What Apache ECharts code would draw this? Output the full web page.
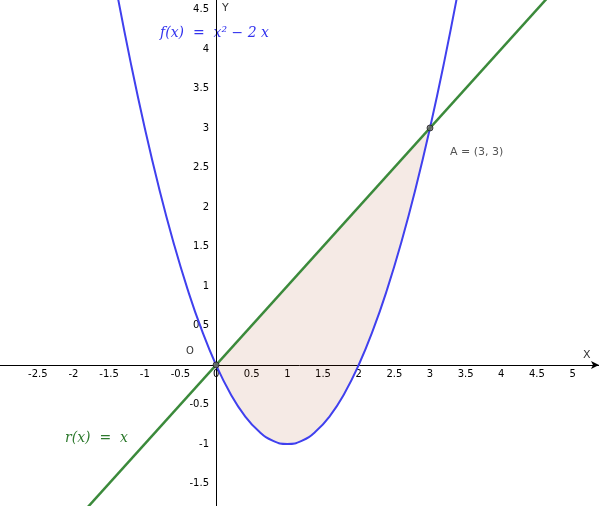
<!DOCTYPE html>
<html><head><meta charset="utf-8">
<script src="https://cdn.jsdelivr.net/npm/echarts@6/dist/echarts.min.js"></script>
<style>html,body{margin:0;padding:0;background:#fff}#c{width:599px;height:506px}</style>
</head><body><div id="c"></div>
<script>
const fx = [-1.4,-1.2,-1.0,-0.8,-0.6,-0.4,-0.2,0,0.2,0.4,0.6,0.8,1.0,1.2,1.4,1.6,1.8,2.0,2.2,2.4,2.6,2.8,3.0,3.2,3.4];
const fy = [4.76,3.84,3,2.24,1.56,0.96,0.44,0,-0.36,-0.64,-0.84,-0.96,-1,-0.96,-0.84,-0.64,-0.36,0,0.44,0.96,1.56,2.24,3,3.84,4.76];
const rx = [-1.8, 4.8];
const ry = [-1.8, 4.8];
const points = [[0,0],[3,3]];
const regionX = [0,0.2,0.4,0.6,0.8,1.0,1.2,1.4,1.6,1.8,2.0,2.2,2.4,2.6,2.8,3.0];
const regionLow = [0,-0.36,-0.64,-0.84,-0.96,-1,-0.96,-0.84,-0.64,-0.36,0,0.44,0.96,1.56,2.24,3];
const xTicks = [-2.5,-2,-1.5,-1,-0.5,0,0.5,1,1.5,2,2.5,3,3.5,4,4.5,5];
const yTicks = [-1.5,-1,-0.5,0.5,1,1.5,2,2.5,3,3.5,4,4.5];

const chart = echarts.init(document.getElementById('c'));
const lbl = {fontSize:10, color:'#000', fontFamily:'DejaVu Sans'};
chart.setOption({
  animation:false,
  grid:{left:0, right:0, top:0, bottom:0},
  xAxis:{type:'value', min:-3.03, max:5.37,
    axisLine:{onZero:true, lineStyle:{color:'#000', width:1}, symbol:['none','arrow'], symbolSize:[6,8]},
    axisTick:{show:false},
    splitLine:{show:false},
    axisLabel:Object.assign({customValues:xTicks, margin:-137, showMinLabel:true, showMaxLabel:true}, lbl)},
  yAxis:{type:'value', min:-1.785, max:4.62,
    axisLine:{onZero:true, lineStyle:{color:'#000', width:1}},
    axisTick:{show:false},
    splitLine:{show:false},
    axisLabel:Object.assign({customValues:yTicks, margin:-209, showMinLabel:true, showMaxLabel:true}, lbl)},
  series:[
    {type:'custom', z:1, silent:true,
     renderItem:(p,api)=>{
       const pts = regionX.map(x=>api.coord([x,x]));
       for(let i=regionX.length-1;i>=0;i--) pts.push(api.coord([regionX[i],regionLow[i]]));
       return {type:'polygon', shape:{points:pts}, style:{fill:'rgba(153,51,0,0.1)', stroke:'none'}};
     }, data:[0]},
    {type:'line', z:3, data:fx.map((x,i)=>[x,fy[i]]), smooth:true, showSymbol:false, clip:false,
     lineStyle:{color:'#4040ee', width:2}},
    {type:'line', z:4, data:rx.map((x,i)=>[x,ry[i]]), showSymbol:false, clip:false,
     lineStyle:{color:'#3b8a3b', width:2.5}},
    {type:'scatter', z:5, data:points, symbolSize:6,
     itemStyle:{color:'#666', borderColor:'#222', borderWidth:1}}
  ],
  graphic:[
    {type:'text', left:222, top:3, style:{text:'Y', fontSize:11, fill:'#333', fontFamily:'DejaVu Sans'}},
    {type:'text', left:583, top:350, style:{text:'X', fontSize:11, fill:'#333', fontFamily:'DejaVu Sans'}},
    {type:'text', left:186, top:346, style:{text:'O', fontSize:10, fill:'#333', fontFamily:'DejaVu Sans'}},
    {type:'text', left:450, top:147, style:{text:'A = (3, 3)', fontSize:11, fill:'#555', fontFamily:'DejaVu Sans'}},
    {type:'text', left:160, top:26, style:{text:'f(x)  =  x² − 2 x', fontSize:14, fontStyle:'italic', fill:'#3333ee', fontFamily:'DejaVu Serif'}},
    {type:'text', left:65, top:431, style:{text:'r(x)  =  x', fontSize:14, fontStyle:'italic', fill:'#2e7a2e', fontFamily:'DejaVu Serif'}}
  ]
});
</script></body></html>
